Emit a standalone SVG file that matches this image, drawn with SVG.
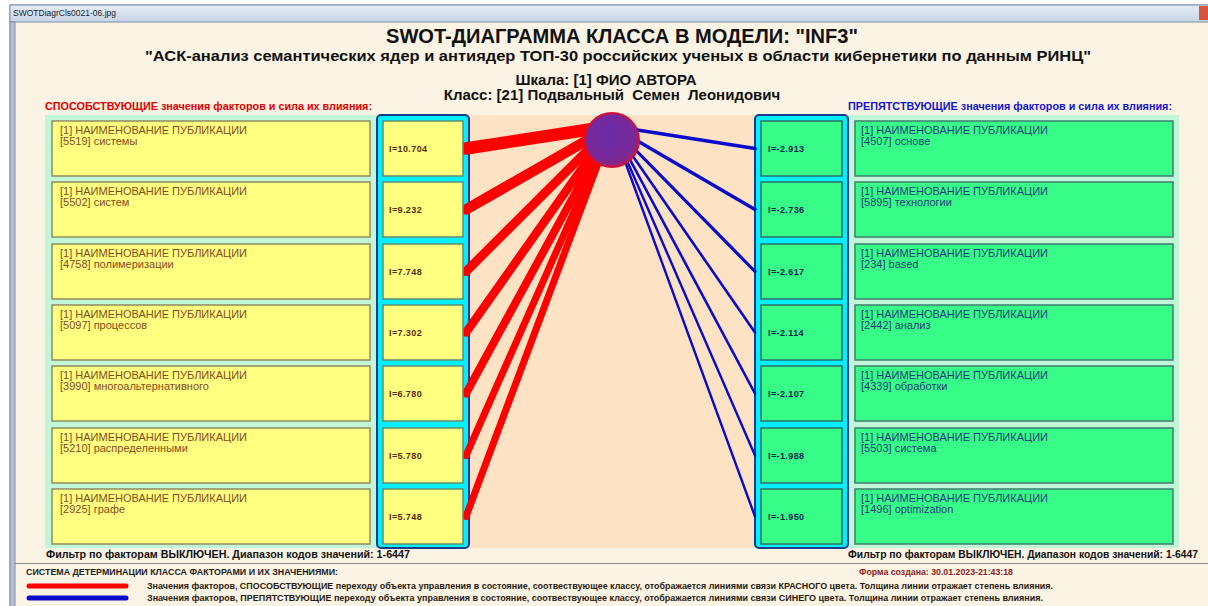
<svg xmlns="http://www.w3.org/2000/svg" width="1208" height="606" viewBox="0 0 1208 606">
<defs>
<linearGradient id="tb" x1="0" y1="0" x2="0" y2="1"><stop offset="0" stop-color="#E4ECF6"/><stop offset="1" stop-color="#C9D6E6"/></linearGradient>
<radialGradient id="ball" cx="0.45" cy="0.4" r="0.6"><stop offset="0" stop-color="#6A2CA8"/><stop offset="0.8" stop-color="#7A2898"/><stop offset="1" stop-color="#A0206E"/></radialGradient>
<style>
.ttl{font-family:"Liberation Sans",Arial,sans-serif;font-weight:bold;fill:#111}
.ybox{fill:#FFFF80;stroke:#8E8C60;stroke-width:1.5}
.gbox{fill:#38FC88;stroke:#3E7F6E;stroke-width:1.5}
.vy{fill:#FFFF80;stroke:#5E8E72;stroke-width:1.5}
.vg{fill:#38FC88;stroke:#2E6E66;stroke-width:1.5}
.t{font-family:"Liberation Sans",Arial,sans-serif;font-size:11px}
.ty{fill:#8B4A1E}
.tg{fill:#1F3E7A}
.v{font-family:"Liberation Sans",Arial,sans-serif;font-size:9px;font-weight:bold;letter-spacing:0.4px}
.vyt{fill:#5A2A0A}
.vgt{fill:#10284E}
.red{stroke:#FF0000;stroke-linecap:round;fill:none}
.blue{stroke:#0A0ACC;stroke-linecap:round;fill:none}
.small{font-family:"Liberation Sans",Arial,sans-serif;font-weight:bold}
</style>
</defs>
<rect x="0" y="0" width="1208" height="606" fill="#FFFFFF"/>
<rect x="10" y="5" width="1210" height="620" fill="#FBF3E3" stroke="#7C8DA6" stroke-width="1"/>
<rect x="10" y="5" width="1210" height="17" fill="url(#tb)" stroke="#7C8DA6" stroke-width="1"/>
<rect x="1199" y="6" width="12" height="14" fill="#D8523E"/>
<text x="13" y="16" font-family="'Liberation Sans',Arial,sans-serif" font-size="8.5" fill="#222">SWOTDiagrCls0021-06.jpg</text>
<rect x="10" y="22" width="5" height="590" fill="#B4C0D0" stroke="#7C8DA6" stroke-width="1"/>

<text class="ttl" x="622" y="43" font-size="20" text-anchor="middle" textLength="472" lengthAdjust="spacingAndGlyphs">SWOT-ДИАГРАММА КЛАССА В МОДЕЛИ: "INF3"</text>
<text class="ttl" x="618" y="61" font-size="15" text-anchor="middle" textLength="946" lengthAdjust="spacingAndGlyphs">"АСК-анализ семантических ядер и антиядер ТОП-30 российских ученых в области кибернетики по данным РИНЦ"</text>
<text class="ttl" x="606" y="85" font-size="15" text-anchor="middle">Шкала: [1] ФИО АВТОРА</text>
<text class="ttl" x="612" y="100" font-size="15" text-anchor="middle" xml:space="preserve">Класс: [21] Подвальный  Семен  Леонидович</text>

<text class="small" x="45" y="110" font-size="10.5" fill="#E00000" textLength="327" lengthAdjust="spacingAndGlyphs">СПОСОБСТВУЮЩИЕ значения факторов и сила их влияния:</text>
<text class="small" x="848" y="110" font-size="10.5" fill="#1414C8" textLength="324" lengthAdjust="spacingAndGlyphs">ПРЕПЯТСТВУЮЩИЕ значения факторов и сила их влияния:</text>

<g id="panels">
<rect x="45" y="115" width="335" height="433" fill="#C2F6D8"/>
<rect x="845" y="115" width="334" height="433" fill="#C2F6D8"/>
<rect x="469" y="115" width="286" height="433" fill="#FDE2C4"/>
<rect x="377" y="115" width="92" height="433" rx="4" fill="#00F0FF" stroke="#1B3C8C" stroke-width="2"/>
<rect x="755" y="115" width="93" height="433" rx="4" fill="#00F0FF" stroke="#1B3C8C" stroke-width="2"/>
</g>

<g id="connectors">
<line class="red" x1="466" y1="148.5" x2="612" y2="126" stroke-width="12.5"/>
<line class="red" x1="466" y1="209.5" x2="612" y2="126" stroke-width="10.5"/>
<line class="red" x1="466" y1="271.5" x2="612" y2="126" stroke-width="9"/>
<line class="red" x1="466" y1="332.5" x2="612" y2="126" stroke-width="8.5"/>
<line class="red" x1="466" y1="393.5" x2="612" y2="126" stroke-width="8"/>
<line class="red" x1="466" y1="455.5" x2="612" y2="126" stroke-width="7"/>
<line class="red" x1="466" y1="516.5" x2="612" y2="126" stroke-width="7"/>
<line class="blue" x1="755" y1="148.5" x2="612" y2="126" stroke-width="3.6"/>
<line class="blue" x1="755" y1="209.5" x2="612" y2="126" stroke-width="3.4"/>
<line class="blue" x1="755" y1="271.5" x2="612" y2="126" stroke-width="3.2"/>
<line class="blue" x1="755" y1="332.5" x2="612" y2="126" stroke-width="2.6"/>
<line class="blue" x1="755" y1="393.5" x2="612" y2="126" stroke-width="2.6"/>
<line class="blue" x1="755" y1="455.5" x2="612" y2="126" stroke-width="2.4"/>
<line class="blue" x1="755" y1="516.5" x2="612" y2="126" stroke-width="2.4"/>
</g>

<g id="class-circle">
<circle cx="612" cy="140" r="27" fill="url(#ball)" stroke="#D0103A" stroke-width="2"/>
</g>

<g id="pos-1"><rect class="ybox" x="52" y="121" width="318" height="55"/><text class="t ty" x="60" y="134">[1] НАИМЕНОВАНИЕ ПУБЛИКАЦИИ</text><text class="t ty" x="60" y="145">[5519] системы</text></g>
<g id="pos-2"><rect class="ybox" x="52" y="182" width="318" height="55"/><text class="t ty" x="60" y="195">[1] НАИМЕНОВАНИЕ ПУБЛИКАЦИИ</text><text class="t ty" x="60" y="206">[5502] систем</text></g>
<g id="pos-3"><rect class="ybox" x="52" y="244" width="318" height="55"/><text class="t ty" x="60" y="257">[1] НАИМЕНОВАНИЕ ПУБЛИКАЦИИ</text><text class="t ty" x="60" y="268">[4758] полимеризации</text></g>
<g id="pos-4"><rect class="ybox" x="52" y="305" width="318" height="55"/><text class="t ty" x="60" y="318">[1] НАИМЕНОВАНИЕ ПУБЛИКАЦИИ</text><text class="t ty" x="60" y="329">[5097] процессов</text></g>
<g id="pos-5"><rect class="ybox" x="52" y="366" width="318" height="55"/><text class="t ty" x="60" y="379">[1] НАИМЕНОВАНИЕ ПУБЛИКАЦИИ</text><text class="t ty" x="60" y="390">[3990] многоальтернативного</text></g>
<g id="pos-6"><rect class="ybox" x="52" y="428" width="318" height="55"/><text class="t ty" x="60" y="441">[1] НАИМЕНОВАНИЕ ПУБЛИКАЦИИ</text><text class="t ty" x="60" y="452">[5210] распределенными</text></g>
<g id="pos-7"><rect class="ybox" x="52" y="489" width="318" height="55"/><text class="t ty" x="60" y="502">[1] НАИМЕНОВАНИЕ ПУБЛИКАЦИИ</text><text class="t ty" x="60" y="513">[2925] графе</text></g>

<g id="pos-val-1"><rect class="vy" x="383" y="121" width="80" height="55"/><text class="v vyt" x="389" y="151.5">I=10.704</text></g>
<g id="pos-val-2"><rect class="vy" x="383" y="182" width="80" height="55"/><text class="v vyt" x="389" y="212.5">I=9.232</text></g>
<g id="pos-val-3"><rect class="vy" x="383" y="244" width="80" height="55"/><text class="v vyt" x="389" y="274.5">I=7.748</text></g>
<g id="pos-val-4"><rect class="vy" x="383" y="305" width="80" height="55"/><text class="v vyt" x="389" y="335.5">I=7.302</text></g>
<g id="pos-val-5"><rect class="vy" x="383" y="366" width="80" height="55"/><text class="v vyt" x="389" y="396.5">I=6.780</text></g>
<g id="pos-val-6"><rect class="vy" x="383" y="428" width="80" height="55"/><text class="v vyt" x="389" y="458.5">I=5.780</text></g>
<g id="pos-val-7"><rect class="vy" x="383" y="489" width="80" height="55"/><text class="v vyt" x="389" y="519.5">I=5.748</text></g>

<g id="neg-val-1"><rect class="vg" x="761" y="121" width="81" height="55"/><text class="v vgt" x="768" y="151.5">I=-2.913</text></g>
<g id="neg-val-2"><rect class="vg" x="761" y="182" width="81" height="55"/><text class="v vgt" x="768" y="212.5">I=-2.736</text></g>
<g id="neg-val-3"><rect class="vg" x="761" y="244" width="81" height="55"/><text class="v vgt" x="768" y="274.5">I=-2.617</text></g>
<g id="neg-val-4"><rect class="vg" x="761" y="305" width="81" height="55"/><text class="v vgt" x="768" y="335.5">I=-2.114</text></g>
<g id="neg-val-5"><rect class="vg" x="761" y="366" width="81" height="55"/><text class="v vgt" x="768" y="396.5">I=-2.107</text></g>
<g id="neg-val-6"><rect class="vg" x="761" y="428" width="81" height="55"/><text class="v vgt" x="768" y="458.5">I=-1.988</text></g>
<g id="neg-val-7"><rect class="vg" x="761" y="489" width="81" height="55"/><text class="v vgt" x="768" y="519.5">I=-1.950</text></g>

<g id="neg-1"><rect class="gbox" x="855" y="121" width="318" height="55"/><text class="t tg" x="861" y="134">[1] НАИМЕНОВАНИЕ ПУБЛИКАЦИИ</text><text class="t tg" x="861" y="145">[4507] основе</text></g>
<g id="neg-2"><rect class="gbox" x="855" y="182" width="318" height="55"/><text class="t tg" x="861" y="195">[1] НАИМЕНОВАНИЕ ПУБЛИКАЦИИ</text><text class="t tg" x="861" y="206">[5895] технологии</text></g>
<g id="neg-3"><rect class="gbox" x="855" y="244" width="318" height="55"/><text class="t tg" x="861" y="257">[1] НАИМЕНОВАНИЕ ПУБЛИКАЦИИ</text><text class="t tg" x="861" y="268">[234] based</text></g>
<g id="neg-4"><rect class="gbox" x="855" y="305" width="318" height="55"/><text class="t tg" x="861" y="318">[1] НАИМЕНОВАНИЕ ПУБЛИКАЦИИ</text><text class="t tg" x="861" y="329">[2442] анализ</text></g>
<g id="neg-5"><rect class="gbox" x="855" y="366" width="318" height="55"/><text class="t tg" x="861" y="379">[1] НАИМЕНОВАНИЕ ПУБЛИКАЦИИ</text><text class="t tg" x="861" y="390">[4339] обработки</text></g>
<g id="neg-6"><rect class="gbox" x="855" y="428" width="318" height="55"/><text class="t tg" x="861" y="441">[1] НАИМЕНОВАНИЕ ПУБЛИКАЦИИ</text><text class="t tg" x="861" y="452">[5503] система</text></g>
<g id="neg-7"><rect class="gbox" x="855" y="489" width="318" height="55"/><text class="t tg" x="861" y="502">[1] НАИМЕНОВАНИЕ ПУБЛИКАЦИИ</text><text class="t tg" x="861" y="513">[1496] optimization</text></g>

<text class="small" x="46" y="558" font-size="11.5" fill="#111" textLength="364" lengthAdjust="spacingAndGlyphs">Фильтр по факторам ВЫКЛЮЧЕН. Диапазон кодов значений: 1-6447</text>
<text class="small" x="848" y="558" font-size="10.5" fill="#111" textLength="350" lengthAdjust="spacingAndGlyphs">Фильтр по факторам ВЫКЛЮЧЕН. Диапазон кодов значений: 1-6447</text>
<line x1="15" y1="563.5" x2="1208" y2="563.5" stroke="#8C8C8C" stroke-width="1"/>
<text class="small" x="26" y="575" font-size="9" fill="#222" textLength="312" lengthAdjust="spacingAndGlyphs">СИСТЕМА ДЕТЕРМИНАЦИИ КЛАССА ФАКТОРАМИ И ИХ ЗНАЧЕНИЯМИ:</text>
<text class="small" x="859" y="575" font-size="8.5" fill="#8B2323" textLength="154" lengthAdjust="spacingAndGlyphs">Форма создана: 30.01.2023-21:43:18</text>
<line x1="29" y1="586" x2="126" y2="586" stroke="#FF0000" stroke-width="5" stroke-linecap="round"/>
<line x1="29" y1="598" x2="126" y2="598" stroke="#0A0ACC" stroke-width="5" stroke-linecap="round"/>
<text class="small" x="147" y="589" font-size="8.5" fill="#2A1A10" textLength="906" lengthAdjust="spacingAndGlyphs">Значения факторов, СПОСОБСТВУЮЩИЕ переходу объекта управления в состояние, соотвествующее классу, отображается линиями связи КРАСНОГО цвета. Толщина линии отражает степень влияния.</text>
<text class="small" x="147" y="601" font-size="8.5" fill="#2A1A10" textLength="896" lengthAdjust="spacingAndGlyphs">Значения факторов, ПРЕПЯТСТВУЮЩИЕ переходу объекта управления в состояние, соотвествующее классу, отображается линиями связи СИНЕГО цвета. Толщина линии отражает степень влияния.</text>
</svg>
